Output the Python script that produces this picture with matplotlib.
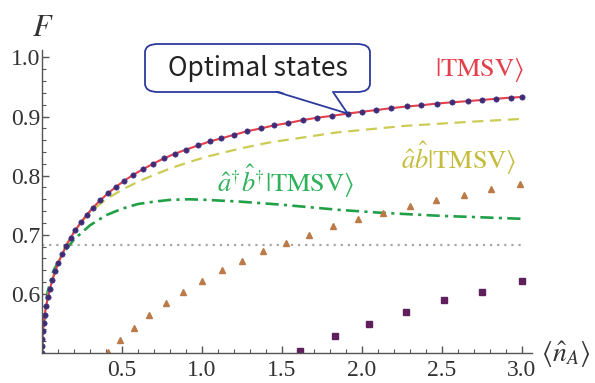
import numpy as np
import matplotlib
matplotlib.use('Agg')
import matplotlib.pyplot as plt
from matplotlib.patches import FancyBboxPatch, Polygon

plt.rcParams['mathtext.fontset'] = 'stix'

# optimal states / |TMSV> (dots + line)
n_opt = [0, 0.0006, 0.0023, 0.0055, 0.0105, 0.0172, 0.0256, 0.0366, 0.050, 0.0655,
         0.084, 0.103, 0.126, 0.151, 0.179, 0.209, 0.243, 0.280, 0.319, 0.363,
         0.412, 0.462, 0.512, 0.568, 0.631, 0.694, 0.76, 0.83, 0.90, 0.975,
         1.05, 1.12, 1.20, 1.28, 1.37, 1.45, 1.54, 1.63, 1.72, 1.81,
         1.91, 2.00, 2.09, 2.18, 2.28, 2.37, 2.47, 2.56, 2.66, 2.75,
         2.84, 2.93, 3.00]
F_opt = [0.5, 0.512, 0.524, 0.537, 0.551, 0.565, 0.579, 0.594, 0.609, 0.624,
         0.639, 0.653, 0.667, 0.681, 0.695, 0.708, 0.721, 0.734, 0.746, 0.758,
         0.770, 0.781, 0.791, 0.801, 0.811, 0.820, 0.829, 0.837, 0.844, 0.851,
         0.858, 0.863, 0.869, 0.875, 0.880, 0.885, 0.889, 0.894, 0.898, 0.901,
         0.905, 0.908, 0.911, 0.914, 0.917, 0.919, 0.922, 0.924, 0.926, 0.928,
         0.930, 0.932, 0.933]

# a b |TMSV> (dashed)
n_ab = [0, 0.003, 0.01, 0.025, 0.05, 0.09, 0.14, 0.194, 0.298, 0.40, 0.506, 0.611,
        0.715, 0.82, 0.92, 1.03, 1.24, 1.42, 1.84, 2.26, 2.67, 3.0]
F_ab = [0.5, 0.525, 0.55, 0.58, 0.613, 0.647, 0.677, 0.703, 0.738, 0.760, 0.777, 0.791,
        0.803, 0.814, 0.823, 0.832, 0.846, 0.856, 0.873, 0.884, 0.891, 0.896]

# a+ b+ |TMSV> (dash-dot)
n_adbd = [0, 0.005, 0.015, 0.035, 0.07, 0.11, 0.15, 0.2, 0.3, 0.4, 0.5, 0.6,
          0.7, 0.8, 0.92, 1.03, 1.24, 1.49, 1.86, 2.13, 2.49, 3.0]
F_adbd = [0.5, 0.53, 0.56, 0.603, 0.638, 0.659, 0.675, 0.692, 0.716, 0.733, 0.744, 0.752,
          0.756, 0.759, 0.760, 0.759, 0.756, 0.751, 0.742, 0.737, 0.732, 0.727]

# triangles
n_tri = [0.41, 0.49, 0.578, 0.671, 0.773, 0.884, 1.0, 1.123, 1.25, 1.384,
         1.525, 1.669, 1.819, 1.975, 2.131, 2.298, 2.465, 2.636, 2.809, 2.986]
F_tri = [0.501, 0.522, 0.543, 0.564, 0.584, 0.603, 0.622, 0.640, 0.656, 0.672,
         0.686, 0.700, 0.714, 0.726, 0.737, 0.748, 0.759, 0.768, 0.777, 0.786]

# squares
n_sq = [1.614, 1.829, 2.045, 2.274, 2.511, 2.75, 2.998]
F_sq = [0.504, 0.528, 0.549, 0.569, 0.589, 0.604, 0.622]

classical = 0.683

fig = plt.figure(figsize=(5.95, 3.83), dpi=100)
ax = fig.add_axes([42/595, 1-353/383, 490/595, 303/383])
ax.set_xlim(0, 3.0625)
ax.set_ylim(0.5, 1.0125)

ax.plot([0, 3.0], [classical, classical], color='#a8a8a8', lw=1.6, ls=(0, (1, 2.2)))
ax.plot(n_adbd, F_adbd, color='#22a048', lw=1.9, ls=(0, (5, 2, 1.2, 2)))
ax.plot(n_ab, F_ab, color='#cccc55', lw=1.6, ls=(0, (5, 3)))
ax.plot(n_tri, F_tri, ls='none', marker='^', ms=5, color='#bb7a48')
ax.plot(n_sq, F_sq, ls='none', marker='s', ms=5, color='#5e1f5c')
ax.plot(n_opt, F_opt, color='#e4404c', lw=1.5)
ax.plot(n_opt, F_opt, ls='none', marker='o', ms=3.8, mfc='#43296f', mec='#383890', mew=0.5)

for s in ['top', 'right']:
    ax.spines[s].set_visible(False)
for s in ['left', 'bottom']:
    ax.spines[s].set_color('#555555')
    ax.spines[s].set_linewidth(1.0)

ax.set_xticks([0.5, 1.0, 1.5, 2.0, 2.5, 3.0])
ax.set_xticks(np.arange(0.1, 3.05, 0.1), minor=True)
ax.set_yticks([0.6, 0.7, 0.8, 0.9, 1.0])
ax.set_yticks(np.arange(0.52, 1.01, 0.02), minor=True)
ax.tick_params(which='both', direction='in', color='#555555')
ax.tick_params(which='major', length=5, width=1.0)
ax.tick_params(which='minor', length=3, width=0.8)
ax.tick_params(axis='x', which='major', pad=5)
ax.tick_params(axis='y', which='major', pad=1)
for lab in ax.get_xticklabels() + ax.get_yticklabels():
    lab.set_fontfamily('Liberation Serif')
    lab.set_fontsize(17)
    lab.set_color('#333333')

fig.text(43/595, 1-27/383, r'$F$', fontsize=22, ha='center', va='center', color='#333333')
fig.text(541/595, 1-354/383, r'$\langle\hat{n}_A\rangle$', fontsize=20, ha='left', va='center', color='#333333')

fig.text(480/595, 1-70/383, r'$|\mathrm{TMSV}\rangle$', fontsize=19, ha='center', va='center', color='#e4404c')
fig.text(459/595, 1-158/383, r'$\hat{a}\hat{b}|\mathrm{TMSV}\rangle$', fontsize=19, ha='center', va='center', color='#c4bd3c')
fig.text(286/595, 1-181/383, r'$\hat{a}^{\dagger}\hat{b}^{\dagger}|\mathrm{TMSV}\rangle$', fontsize=19, ha='center', va='center', color='#2eb25a')

# callout box
edge = '#2b3a9c'
bx0, bx1, by0, by1 = 145/595, 370/595, 1-92/383, 1-44/383
box = FancyBboxPatch((bx0, by0), bx1-bx0, by1-by0, boxstyle='round,pad=0,rounding_size=0.022',
                     transform=fig.transFigure, facecolor='white', edgecolor=edge, lw=1.3, zorder=5)
fig.patches.append(box)
fig.canvas.draw()
tip = fig.transFigure.inverted().transform(ax.transData.transform((n_opt[40], F_opt[40])))
base_a, base_b = 277/595, 333/595
tail = Polygon([(base_a, by0 + 0.004), (tip[0], tip[1]), (base_b, by0 + 0.004)], closed=True,
               transform=fig.transFigure, facecolor='white', edgecolor='none', zorder=6)
fig.patches.append(tail)
fig.lines.append(plt.Line2D([base_a, tip[0], base_b], [by0, tip[1], by0], color=edge, lw=1.3,
                            transform=fig.transFigure, zorder=7))
fig.text((bx0+bx1)/2, (by0+by1)/2, 'Optimal states', fontsize=19, ha='center', va='center',
         family='Noto Sans CJK KR', color='#222222', zorder=8)

fig.savefig('out.png', dpi=100)
